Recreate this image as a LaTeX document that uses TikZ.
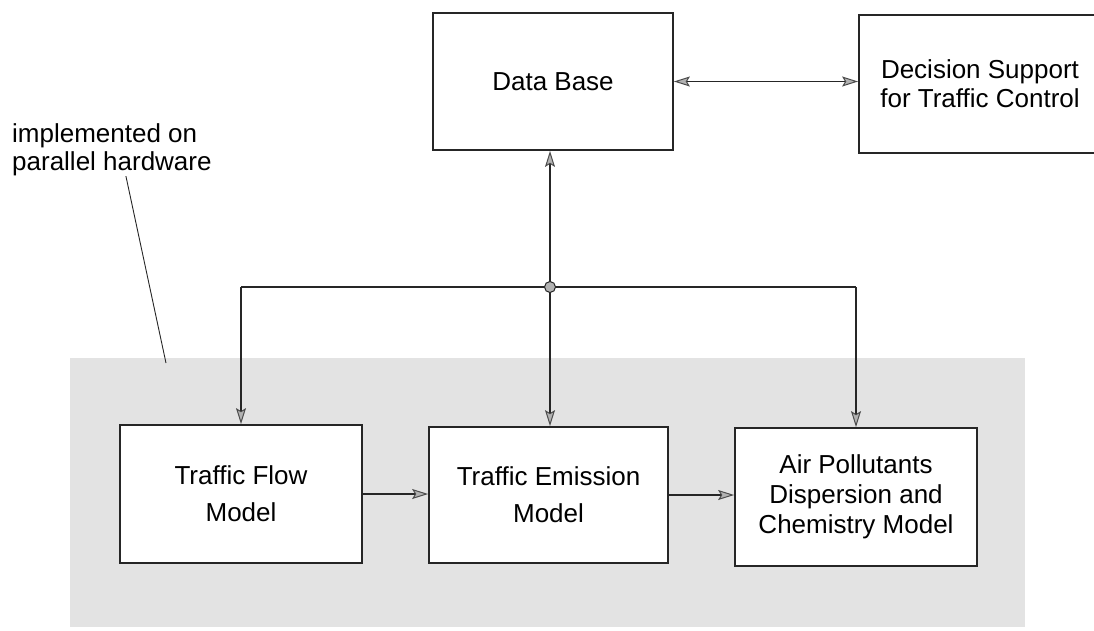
\documentclass[tikz,border=0pt]{standalone}
\usepackage{fontspec}
\setmainfont{Liberation Sans}
\usetikzlibrary{arrows.meta}
\begin{document}
\begin{tikzpicture}[x=1pt,y=-1pt,
  font=\fontsize{26}{30}\selectfont,
  >={Stealth[length=16pt,width=10pt,inset=3pt,fill=gray!60,color=black!70,line width=1pt]},
  box/.style={draw=black!85, line width=1.8pt, fill=white, inner sep=0pt, align=center},
  conn/.style={draw=black!85, line width=1.6pt},
  leader/.style={draw=black!85, line width=0.9pt},
  dotnode/.style={circle, draw=black!85, fill=gray!60, line width=1pt, inner sep=0pt, minimum size=11pt}
]
\useasboundingbox (0,0) rectangle (1094,630);
% shaded region: implemented on parallel hardware
\fill[gray!22] (70,358) rectangle (1025,627);

% boxes
\node[box, minimum width=240pt, minimum height=137pt] (db) at (553,81.5) {Data Base};
\node[box, minimum width=242pt, minimum height=138pt] (ds) at (980,84) {Decision Support\\[-1pt]for Traffic Control};
\node[box, minimum width=242pt, minimum height=138pt] (flow) at (241,494) {Traffic Flow\\[7pt]Model};
\node[box, minimum width=239pt, minimum height=136pt] (emis) at (548.5,495) {Traffic Emission\\[7pt]Model};
\node[box, minimum width=242pt, minimum height=138pt] (air) at (856,497) {Air Pollutants\\Dispersion and\\Chemistry Model};

% label
\node[anchor=north west, align=left, inner sep=0pt] (lbl) at (12,123.5) {implemented on\\[-2pt]parallel hardware};
\coordinate (lead) at (166,363);
\draw[leader] ([xshift=14pt]lbl.south) -- (lead);

% distribution bus
\coordinate (junc) at (550,287);
\draw[conn] (flow.north |- junc) -- (air.north |- junc);
\draw[conn,->] (flow.north |- junc) -- (flow.north);
\draw[conn,->] (junc) -- (junc |- emis.north);
\draw[conn,->] (air.north |- junc) -- (air.north);
\draw[conn,->] (junc) -- (junc |- db.south);
\node[dotnode] (dot) at (junc) {};

% other connectors
\draw[conn,<->] (db.east) -- (db.east -| ds.west);
\draw[conn,->] (flow.east) -- (flow.east -| emis.west);
\draw[conn,->] (emis.east) -- (emis.east -| air.west);
\end{tikzpicture}
\end{document}
